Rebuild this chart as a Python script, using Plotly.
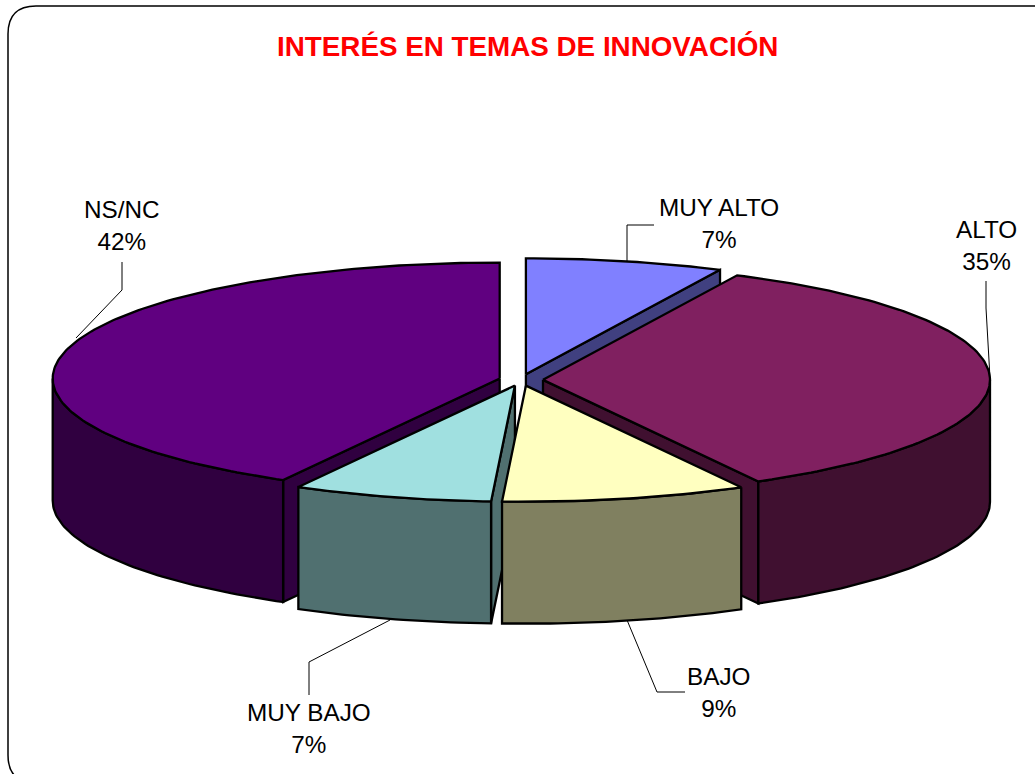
import math
import numpy as np
import plotly.graph_objects as go

# --- data ---
categories = ["MUY ALTO", "ALTO", "BAJO", "MUY BAJO", "NS/NC"]
values = [7.15, 34.85, 8.85, 7.2, 41.95]
top_colors = ["#8080FF", "#802060", "#FFFFC0", "#A0E0E0", "#600080"]
side_colors = ["#404080", "#401030", "#808060", "#507070", "#300040"]
title_text = "INTERÉS EN TEMAS DE INNOVACIÓN"

# label anchor and leader polylines, in page pixels
label_pos = [(719, 223), (986, 245), (718, 692), (309, 728), (122, 225)]
leaders = [
    [(627, 261), (627, 225), (654, 225)],
    [(990, 378), (986, 308), (986, 281)],
    [(627, 620), (657, 692), (685, 692)],
    [(390, 620), (309, 662), (309, 695)],
    [(76, 338), (122, 290), (122, 262)],
]

# --- projection geometry ---
CX, CY = 521, 380
RX, RY = 447, 116
DEPTH = 122
EXPLODE = 22


def pt(cx, cy, a, r=1.0):
    return cx + RX * r * math.sin(a), cy - RY * r * math.cos(a)


def arc(cx, cy, a0, a1, dy=0):
    n = max(2, int(abs(a1 - a0) / math.radians(1)) + 1)
    pts = [pt(cx, cy, a) for a in np.linspace(a0, a1, n)]
    return [(x, y + dy) for x, y in pts]


fig = go.Figure()


def poly(points, fill):
    xs = [p[0] for p in points] + [points[0][0]]
    ys = [p[1] for p in points] + [points[0][1]]
    fig.add_trace(go.Scatter(
        x=xs, y=ys, mode="lines", fill="toself", fillcolor=fill,
        line=dict(color="black", width=2.3), hoverinfo="skip", showlegend=False,
    ))


# wedge angles from the values, clockwise from 12 o'clock
total = sum(values)
bounds = []
acc = 0.0
for v in values:
    bounds.append((acc / total * 2 * math.pi, (acc + v) / total * 2 * math.pi))
    acc += v

# paint back to front
for i in [0, 1, 4, 3, 2]:
    a0, a1 = bounds[i]
    mid = (a0 + a1) / 2
    ax, ay = pt(CX, CY, mid, EXPLODE / RX)
    ay = CY - 5.8 * math.cos(mid)
    # radial walls that face the viewer
    for a, visible in ((a0, math.sin(a0) < -1e-6), (a1, math.sin(a1) > 1e-6)):
        if visible:
            p = pt(ax, ay, a)
            poly([(ax, ay), p, (p[0], p[1] + DEPTH), (ax, ay + DEPTH)], side_colors[i])
    # outer wall, front half only
    f0, f1 = max(a0, math.pi / 2), min(a1, 3 * math.pi / 2)
    if f1 > f0:
        upper = arc(ax, ay, f0, f1)
        lower = arc(ax, ay, f1, f0, DEPTH)
        poly(upper + lower, side_colors[i])
    # top face
    poly([(ax, ay)] + arc(ax, ay, a0, a1), top_colors[i])

# leader lines
for line in leaders:
    fig.add_trace(go.Scatter(
        x=[p[0] for p in line], y=[p[1] for p in line], mode="lines",
        line=dict(color="black", width=1), hoverinfo="skip", showlegend=False,
    ))

# labels
pct = [f"{round(v)}%" for v in values]
annotations = [
    dict(x=x, y=y, xref="x", yref="y", text=f"{c}<br>{p}", showarrow=False,
         align="center", font=dict(family="Liberation Sans", size=24.3, color="black"))
    for (x, y), c, p in zip(label_pos, categories, pct)
]
annotations.append(dict(
    x=527, y=46, xref="x", yref="y", text=f"<b>{title_text}</b>", showarrow=False,
    font=dict(family="Liberation Sans", size=27.8, color="#FF0000"),
))

fig.update_layout(
    width=1035, height=774, margin=dict(l=0, r=0, t=0, b=0),
    paper_bgcolor="white", plot_bgcolor="white", showlegend=False,
    xaxis=dict(range=[0, 1035], visible=False, fixedrange=True),
    yaxis=dict(range=[774, 0], visible=False, fixedrange=True),
    annotations=annotations,
    shapes=[dict(
        type="path", xref="x", yref="y", layer="below",
        path="M 8 34 Q 8 6 36 6 L 1060 6 L 1060 783 L 36 783 Q 8 783 8 755 Z",
        line=dict(color="black", width=1.5), fillcolor="white",
    )],
)

fig.write_html(
    "out.html",
    config=dict(displayModeBar=False),
    post_script="document.body.style.margin='0';document.body.style.overflow='hidden';",
)
